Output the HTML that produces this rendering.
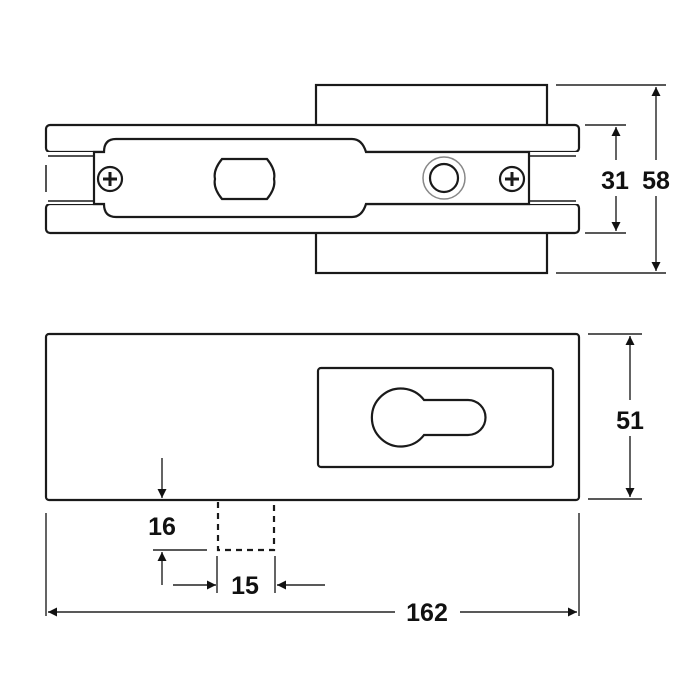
<!DOCTYPE html>
<html><head><meta charset="utf-8"><style>
html,body{margin:0;padding:0;background:#fff;}
svg{display:block}
text{font-family:"Liberation Sans",sans-serif;font-weight:bold;font-size:25px;fill:#111}
</style></head><body>
<svg width="700" height="700" viewBox="0 0 700 700" xmlns="http://www.w3.org/2000/svg">
<defs>
<marker id="a" viewBox="0 0 10 10" refX="10" refY="5" markerWidth="18" markerHeight="9" markerUnits="userSpaceOnUse" orient="auto"><path d="M0,0 L10,5 L0,10 z" fill="#111"/></marker>
</defs>
<g fill="none" stroke="#1a1a1a" stroke-width="2.2">
<rect x="316" y="85" width="231" height="188" fill="#fff"/>
<rect x="46" y="125" width="533" height="27" rx="4" fill="#fff"/>
<rect x="46" y="204" width="533" height="29" rx="4" fill="#fff"/>
<rect x="46" y="152" width="533" height="52" fill="#fff" stroke="none"/>
<line x1="48" y1="156" x2="576" y2="156" stroke-width="1.5"/>
<line x1="48" y1="201" x2="576" y2="201" stroke-width="1.5"/>
<line x1="46" y1="165" x2="46" y2="192" stroke-width="1.5"/>
<path d="M94,152 H104 Q104,139 116,139 H352 Q362,139 366,152 H529 V204 H366 Q362,217 352,217 H116 Q104,217 104,204 H94 z" fill="#fff"/>
<circle cx="110" cy="179" r="12"/>
<path d="M103,179 H117 M110,172 V186" stroke-width="3"/>
<circle cx="512" cy="179" r="12"/>
<path d="M505,179 H519 M512,172 V186" stroke-width="3"/>
<path d="M222,159 L267,159 Q276,170 274,179 Q276,188 267,199 L222,199 Q213,188 215,179 Q213,170 222,159 z"/>
<circle cx="444" cy="178" r="21" stroke="#888" stroke-width="1.5"/>
<circle cx="444" cy="178" r="14"/>
<rect x="46" y="334" width="533" height="166" rx="3"/>
<rect x="318" y="368" width="235" height="99" rx="3"/>
<path d="M424,400 L468,400 A17.5,17.5 0 0 1 468,435 L424,435 A29,29 0 1 1 424,400 z"/>
<path d="M218,502 V550 H274 V502" stroke-dasharray="6,5"/>
</g>
<g stroke="#222" stroke-width="1.4" fill="none">
<line x1="556" y1="85" x2="666" y2="85"/><line x1="556" y1="273" x2="666" y2="273"/>
<line x1="656" y1="160" x2="656" y2="87" marker-end="url(#a)"/>
<line x1="656" y1="196" x2="656" y2="271" marker-end="url(#a)"/>
<line x1="585" y1="125" x2="626" y2="125"/><line x1="585" y1="233" x2="626" y2="233"/>
<line x1="616" y1="160" x2="616" y2="127" marker-end="url(#a)"/>
<line x1="616" y1="196" x2="616" y2="231" marker-end="url(#a)"/>
<line x1="588" y1="334" x2="642" y2="334"/><line x1="588" y1="499" x2="642" y2="499"/>
<line x1="630" y1="400" x2="630" y2="336" marker-end="url(#a)"/>
<line x1="630" y1="436" x2="630" y2="497" marker-end="url(#a)"/>
<line x1="46" y1="513" x2="46" y2="616"/><line x1="579" y1="513" x2="579" y2="616"/>
<line x1="395" y1="612" x2="48" y2="612" marker-end="url(#a)"/>
<line x1="460" y1="612" x2="577" y2="612" marker-end="url(#a)"/>
<line x1="162" y1="458" x2="162" y2="498" marker-end="url(#a)"/>
<line x1="153" y1="550" x2="207" y2="550"/>
<line x1="162" y1="585" x2="162" y2="552" marker-end="url(#a)"/>
<line x1="217" y1="556" x2="217" y2="593"/><line x1="275" y1="556" x2="275" y2="593"/>
<line x1="173" y1="585" x2="216" y2="585" marker-end="url(#a)"/>
<line x1="325" y1="585" x2="277" y2="585" marker-end="url(#a)"/>
</g>
<text x="615" y="189" text-anchor="middle">31</text>
<text x="656" y="189" text-anchor="middle">58</text>
<text x="630" y="429" text-anchor="middle">51</text>
<text x="162" y="535" text-anchor="middle">16</text>
<text x="245" y="594" text-anchor="middle">15</text>
<text x="427" y="621" text-anchor="middle">162</text>
</svg>
</body></html>
